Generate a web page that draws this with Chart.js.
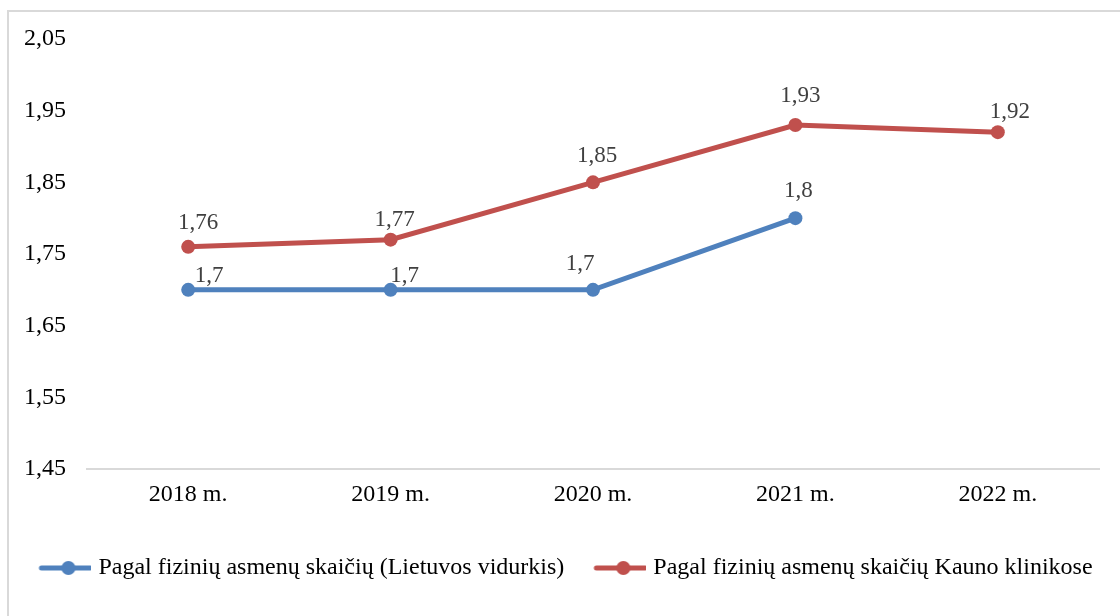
<!DOCTYPE html>
<html>
<head>
<meta charset="utf-8">
<script src="https://cdn.jsdelivr.net/npm/chart.js@4"></script>
<style>
  html, body { margin: 0; padding: 0; background: #fff; }
  #box {
    position: absolute; left: 7px; top: 10px;
    width: 1113px; height: 606px;
    border-left: 2px solid #d9d9d9; border-top: 2px solid #d9d9d9;
    box-sizing: border-box;
  }
  #wrap { position: absolute; left: 0; top: 0; width: 1111px; height: 604px; }
</style>
</head>
<body>
<div id="box"><div id="wrap"><canvas id="chart"></canvas></div></div>
<script>
  var years = ['2018 m.', '2019 m.', '2020 m.', '2021 m.', '2022 m.'];
  var lietuvosVidurkis = [1.7, 1.7, 1.7, 1.8, null];
  var kaunoKlinikos = [1.76, 1.77, 1.85, 1.93, 1.92];
  var yTicks = [1.45, 1.55, 1.65, 1.75, 1.85, 1.95, 2.05];
  var seriesNames = [
    'Pagal fizinių asmenų skaičių (Lietuvos vidurkis)',
    'Pagal fizinių asmenų skaičių Kauno klinikose'
  ];

  // where each value label sits relative to its point (dx, baseline dy)
  var labelNudge = [
    [[21, -8], [14, -8], [-13, -20], [3, -21]],
    [[10, -18], [4, -14], [4, -20], [5, -23], [12, -14]]
  ];

  var BLUE = '#4f81bd';
  var RED = '#c0504d';
  var FONT = "'Liberation Serif', 'Times New Roman', serif";

  function fmt(v) {
    return String(v).replace('.', ',');
  }

  // line + dot sample for the legend (box is 50 wide, image 60 centred on it)
  function legendIcon(color) {
    var c = document.createElement('canvas');
    c.width = 60; c.height = 16;
    var g = c.getContext('2d');
    g.strokeStyle = color;
    g.lineWidth = 5;
    g.lineCap = 'round';
    g.beginPath();
    g.moveTo(10, 8); g.lineTo(59, 8);
    g.stroke();
    g.fillStyle = color;
    g.beginPath();
    g.arc(37, 8, 7, 0, Math.PI * 2);
    g.fill();
    return c;
  }
  var icons = [legendIcon(BLUE), legendIcon(RED)];

  var valueLabels = {
    id: 'valueLabels',
    afterDatasetsDraw: function (chart) {
      var ctx = chart.ctx;
      ctx.save();
      ctx.font = '23px ' + FONT;
      ctx.fillStyle = '#404040';
      ctx.textAlign = 'center';
      ctx.textBaseline = 'alphabetic';
      chart.data.datasets.forEach(function (ds, i) {
        var meta = chart.getDatasetMeta(i);
        meta.data.forEach(function (pt, j) {
          var v = ds.data[j];
          if (v === null || v === undefined) return;
          var n = labelNudge[i][j] || [4, -18];
          ctx.fillText(fmt(v), pt.x + n[0], pt.y + n[1]);
        });
      });
      ctx.restore();
    }
  };

  const ctx = document.getElementById('chart');

  const chart = new Chart(ctx, {
    type: 'line',
    data: {
      labels: years,
      datasets: [{
        label: seriesNames[0],
        data: lietuvosVidurkis,
        borderColor: BLUE,
        backgroundColor: BLUE,
        borderWidth: 5,
        pointRadius: 7,
        pointHoverRadius: 7,
        pointBorderWidth: 0,
        tension: 0
      }, {
        label: seriesNames[1],
        data: kaunoKlinikos,
        borderColor: RED,
        backgroundColor: RED,
        borderWidth: 5,
        pointRadius: 7,
        pointHoverRadius: 7,
        pointBorderWidth: 0,
        tension: 0
      }]
    },
    options: {
      responsive: true,
      maintainAspectRatio: false,
      animation: false,
      layout: {
        padding: { left: 0, right: 0, top: 27, bottom: 26 }
      },
      scales: {
        x: {
          offset: true,
          grid: { display: false, drawTicks: false },
          border: { display: true, color: '#d9d9d9', width: 2 },
          ticks: {
            color: '#000',
            font: { family: FONT, size: 24 },
            padding: 11
          },
          afterFit: function (scale) { scale.height = 60; }
        },
        y: {
          min: 1.45,
          max: 2.05,
          afterBuildTicks: function (axis) {
            axis.ticks = yTicks.map(function (v) { return { value: v }; });
          },
          grid: { display: false, drawTicks: false },
          border: { display: false },
          ticks: {
            color: '#000',
            font: { family: FONT, size: 24 },
            padding: 21,
            callback: function (v) { return v.toFixed(2).replace('.', ','); }
          },
          afterFit: function (scale) {
            scale.width = 78;
            scale.paddingTop = 0;
            scale.paddingBottom = 0;
          }
        },
        // empty right-hand spacer so the plot stops short of the frame
        spacer: {
          type: 'linear',
          position: 'right',
          display: true,
          grid: { display: false, drawTicks: false },
          border: { display: false },
          ticks: { display: false },
          afterFit: function (scale) {
            scale.width = 21;
            scale.paddingTop = 0;
            scale.paddingBottom = 0;
          }
        }
      },
      plugins: {
        tooltip: { enabled: false },
        legend: {
          position: 'bottom',
          labels: {
            color: '#000',
            font: { family: FONT, size: 24 },
            usePointStyle: true,
            pointStyleWidth: 50,
            padding: 27,
            generateLabels: function (chart) {
              var items = Chart.defaults.plugins.legend.labels.generateLabels(chart);
              items.forEach(function (it, i) { it.pointStyle = icons[i]; });
              return items;
            }
          }
        }
      }
    },
    plugins: [valueLabels]
  });
</script>
</body>
</html>
